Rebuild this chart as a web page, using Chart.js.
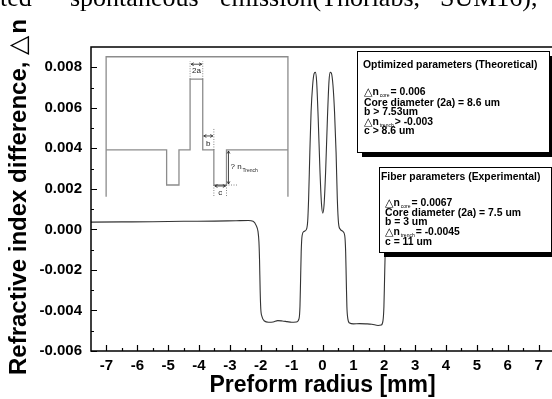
<!DOCTYPE html>
<html><head><meta charset="utf-8">
<script src="https://cdn.jsdelivr.net/npm/chart.js@4.4.1/dist/chart.umd.min.js"></script>
<style>html,body{margin:0;padding:0;overflow:hidden;background:#fff;width:552px;height:399px}canvas{display:block}</style>
</head><body>
<canvas id="c" width="560" height="399" style="width:560px;height:399px"></canvas>
<script>
// Measured preform profile (radius in mm, refractive index difference)
const radius = [-7.5,-6.5,-5.5,-4.5,-3.5,-2.8,-2.4,-2.25,-2.15,-2.09,-2.06,-2.04,-2.02,-2.0,-1.96,-1.88,-1.75,-1.6,-1.45,-1.3,-1.15,-1.0,-0.85,-0.76,-0.73,-0.71,-0.69,-0.66,-0.6,-0.52,-0.48,-0.45,-0.41,-0.37,-0.32,-0.27,-0.23,-0.19,-0.14,-0.08,-0.03,0.01,0.05,0.1,0.16,0.21,0.25,0.29,0.34,0.39,0.44,0.48,0.52,0.58,0.66,0.72,0.75,0.77,0.79,0.82,0.88,1.0,1.2,1.4,1.6,1.8,1.9,1.96,1.99,2.01,2.03,2.06,2.12,2.25,2.5,3.5,4.5,5.5,6.5,7.5];
const deltaN = [0.00036,0.00037,0.00038,0.0004,0.00041,0.00043,0.00044,0.0004,0.0002,-0.0001,-0.0006,-0.0015,-0.003,-0.0039,-0.0043,-0.00452,-0.00458,-0.00457,-0.0045,-0.00452,-0.00455,-0.00458,-0.00457,-0.0044,-0.0038,-0.0025,-0.0011,-0.0003,-0.0001,0.0000,0.0004,0.0015,0.0038,0.0058,0.0071,0.0077,0.00775,0.0073,0.0055,0.0028,0.0012,0.0008,0.0012,0.0028,0.0055,0.0073,0.00775,0.0077,0.0071,0.0058,0.0038,0.0015,0.0003,0.0000,-0.0001,-0.0003,-0.0011,-0.0025,-0.0038,-0.0044,-0.00462,-0.00466,-0.00465,-0.00466,-0.00468,-0.00474,-0.00472,-0.0045,-0.0038,-0.0025,-0.0012,-0.0003,0.0002,0.00038,0.0004,0.0004,0.0004,0.0004,0.0004,0.0004];

const xMajorTicks = [-7,-6,-5,-4,-3,-2,-1,0,1,2,3,4,5,6,7];
const xMinorTicks = [-6.5,-5.5,-4.5,-3.5,-2.5,-1.5,-0.5,0.5,1.5,2.5,3.5,4.5,5.5,6.5];
const yMajorTicks = [-0.006,-0.004,-0.002,0,0.002,0.004,0.006,0.008];
const yMinorTicks = [-0.005,-0.003,-0.001,0.001,0.003,0.005,0.007];

// Inset schematic (ideal design profile) in data units
const insetX = [-7.01,-5.05,-5.05,-4.65,-4.65,-4.29,-4.29,-3.88,-3.88,-3.52,-3.52,-3.11,-3.11,-1.12];
const insetY = [0.00392,0.00392,0.00219,0.00219,0.00392,0.00392,0.00741,0.00741,0.00392,0.00392,0.00219,0.00219,0.00392,0.00392];
const insetFrameX = [-7.01,-1.12];
const insetFrameY = [0.00852,0.00161];

const theoLines = [
  {dn:'core', rest:'= 0.006'},
  {text:'Core diameter (2a) = 8.6 um'},
  {text:'b > 7.53um'},
  {dn:'trench', rest:'> -0.003'},
  {text:'c > 8.6 um'}
];
const expLines = [
  {dn:'core', rest:'= 0.0067'},
  {text:'Core diameter (2a) = 7.5 um'},
  {text:'b = 3 um'},
  {dn:'trench', rest:'= -0.0045'},
  {text:'c = 11 um'}
];

const SANS = '"Liberation Sans", Arial, sans-serif';
const BOXFONT = 'bold 10.4px ' + SANS;

function drawLines(ctx, x0, lines, ys){
  lines.forEach((ln, i) => {
    const y = ys[i];
    ctx.font = BOXFONT;
    ctx.fillStyle = '#000';
    ctx.textBaseline = 'middle';
    ctx.textAlign = 'left';
    if (ln.dn) {
      ctx.font = '11px "DejaVu Sans"';
      ctx.fillText('\u25B3', x0, y);
      let x = x0 + ctx.measureText('\u25B3').width;
      ctx.font = BOXFONT;
      ctx.fillText('n', x, y);
      x += ctx.measureText('n').width + 1;
      ctx.font = '5px ' + SANS;
      ctx.fillText(ln.dn, x, y + 4);
      x += ctx.measureText(ln.dn).width + 1;
      ctx.font = BOXFONT;
      ctx.fillText(ln.rest, x, y);
    } else {
      ctx.fillText(ln.text, x0, y);
    }
  });
}

function shadowBox(ctx, x, y, w, h, s){
  ctx.fillStyle = '#000';
  ctx.fillRect(x + s, y + s, w, h);
  ctx.fillStyle = '#fff';
  ctx.fillRect(x, y, w, h);
  ctx.strokeStyle = '#000';
  ctx.lineWidth = 1;
  ctx.strokeRect(x + 0.5, y + 0.5, w, h);
}

function arrow(ctx, x1, y1, x2, y2){
  ctx.beginPath(); ctx.moveTo(x1, y1); ctx.lineTo(x2, y2); ctx.stroke();
  const a = Math.atan2(y2 - y1, x2 - x1);
  [[x2, y2, a], [x1, y1, a + Math.PI]].forEach(([x, y, t]) => {
    ctx.beginPath();
    ctx.moveTo(x - 3 * Math.cos(t - 0.5), y - 3 * Math.sin(t - 0.5));
    ctx.lineTo(x, y);
    ctx.lineTo(x - 3 * Math.cos(t + 0.5), y - 3 * Math.sin(t + 0.5));
    ctx.stroke();
  });
}

const decor = {
  id: 'decor',
  afterDatasetsDraw(chart){
    const ctx = chart.ctx;
    const xs = chart.scales.x, ys = chart.scales.y;
    const ca = chart.chartArea;
    const px = v => xs.getPixelForValue(v), py = v => ys.getPixelForValue(v);
    ctx.save();
    // frame
    ctx.strokeStyle = '#000'; ctx.lineWidth = 1.5;
    ctx.strokeRect(ca.left, ca.top, ca.right - ca.left, ca.bottom - ca.top);
    // ticks (inward)
    ctx.lineWidth = 1.2;
    ctx.beginPath();
    xMajorTicks.forEach(v => { const x = Math.round(px(v)) + 0.5; ctx.moveTo(x, ca.bottom); ctx.lineTo(x, ca.bottom - 6); });
    xMinorTicks.forEach(v => { const x = Math.round(px(v)) + 0.5; ctx.moveTo(x, ca.bottom); ctx.lineTo(x, ca.bottom - 3); });
    yMajorTicks.forEach(v => { const y = Math.round(py(v)) + 0.5; ctx.moveTo(ca.left, y); ctx.lineTo(ca.left + 6, y); });
    yMinorTicks.forEach(v => { const y = Math.round(py(v)) + 0.5; ctx.moveTo(ca.left, y); ctx.lineTo(ca.left + 3, y); });
    ctx.stroke();

    // inset schematic
    ctx.strokeStyle = '#8c8c8c'; ctx.lineWidth = 1.3;
    ctx.beginPath();
    ctx.moveTo(px(insetFrameX[0]), py(insetFrameY[1]));
    ctx.lineTo(px(insetFrameX[0]), py(insetFrameY[0]));
    ctx.lineTo(px(insetFrameX[1]), py(insetFrameY[0]));
    ctx.lineTo(px(insetFrameX[1]), py(insetFrameY[1]));
    ctx.stroke();
    ctx.beginPath();
    insetX.forEach((v, i) => { const X = px(v), Y = py(insetY[i]); i ? ctx.lineTo(X, Y) : ctx.moveTo(X, Y); });
    ctx.stroke();
    // annotations
    const cL = px(insetX[5]), cR = px(insetX[7]), tL = px(insetX[9]), tR = px(insetX[11]);
    const top = py(insetY[6]), base = py(insetY[0]), tb = py(insetY[2]);
    ctx.strokeStyle = '#666'; ctx.lineWidth = 0.8;
    ctx.setLineDash([1, 1.5]);
    ctx.beginPath();
    ctx.moveTo(cL, top); ctx.lineTo(cL, top - 18);
    ctx.moveTo(cR, top); ctx.lineTo(cR, top - 18);
    ctx.moveTo(tL, base); ctx.lineTo(tL, base - 22);
    ctx.moveTo(tL, tb); ctx.lineTo(tL, tb + 11);
    ctx.moveTo(tR, tb); ctx.lineTo(tR, tb + 11);
    ctx.moveTo(tR + 2, tb); ctx.lineTo(tR + 12, tb);
    ctx.stroke();
    ctx.setLineDash([]);
    ctx.strokeStyle = '#222'; ctx.lineWidth = 0.8;
    arrow(ctx, cL + 1, top - 15, cR - 1, top - 15);
    arrow(ctx, cR + 1, base - 14, tL - 1, base - 14);
    arrow(ctx, tL + 1, tb + 1, tR - 1, tb + 1);
    arrow(ctx, tR + 2, base + 1, tR + 2, tb - 1);
    ctx.fillStyle = '#222'; ctx.textAlign = 'center'; ctx.textBaseline = 'middle';
    ctx.font = '8px ' + SANS;
    ctx.fillText('2a', (cL + cR) / 2, top - 8);
    ctx.fillText('b', (cR + tL) / 2, base - 6);
    ctx.fillText('c', (tL + tR) / 2, tb + 8);
    ctx.textAlign = 'left';
    ctx.fillText('? n', tR + 4, (base + tb) / 2 - 1);
    ctx.font = '5px ' + SANS;
    ctx.fillText('Trench', tR + 16, (base + tb) / 2 + 3);

    // text boxes
    shadowBox(ctx, 357, 51, 192, 101, 5);
    ctx.fillStyle = '#000'; ctx.font = BOXFONT; ctx.textBaseline = 'middle'; ctx.textAlign = 'left';
    ctx.fillText('Optimized parameters (Theoretical)', 363, 65);
    drawLines(ctx, 364, theoLines, [92, 103, 112.5, 122, 131]);

    shadowBox(ctx, 379, 167, 172, 85, 5);
    ctx.fillStyle = '#000'; ctx.font = BOXFONT; ctx.textBaseline = 'middle'; ctx.textAlign = 'left';
    ctx.fillText('Fiber parameters (Experimental)', 381, 177);
    drawLines(ctx, 385, expLines, [203, 213, 222.5, 232, 242]);

    // y axis title
    ctx.save();
    ctx.translate(19, 375);
    ctx.rotate(-Math.PI / 2);
    ctx.fillStyle = '#000';
    ctx.font = 'bold 24px ' + SANS;
    ctx.textAlign = 'left'; ctx.textBaseline = 'middle';
    const t1 = 'Refractive index difference, ';
    ctx.fillText(t1, 0, 0);
    let w = ctx.measureText(t1).width;
    ctx.font = '25px "DejaVu Sans"';
    ctx.fillText('\u25B3', w, 0);
    w += ctx.measureText('\u25B3').width + 2;
    ctx.font = 'bold 24px ' + SANS;
    ctx.fillText('n', w, 0);
    ctx.restore();

    // cropped caption line at top
    ctx.fillStyle = '#000';
    ctx.font = '26px "Liberation Serif", serif';
    ctx.textBaseline = 'alphabetic'; ctx.textAlign = 'left';
    [['ted', 0], ['spontaneous', 70], ['emission(Thorlabs,', 220], ['SUM16),', 440]].forEach(([s, x]) => ctx.fillText(s, x, 6));
    ctx.restore();
  }
};

new Chart(document.getElementById('c'), {
  type: 'scatter',
  data: {
    datasets: [{
      data: radius.map((r, i) => ({x: r, y: deltaN[i]})),
      showLine: true,
      borderColor: '#333',
      borderWidth: 1.1,
      pointRadius: 0,
      cubicInterpolationMode: 'monotone',
      fill: false
    }]
  },
  options: {
    responsive: false,
    devicePixelRatio: 1,
    animation: false,
    layout: {padding: {top: 47, right: 3.5, left: 0, bottom: 0}},
    plugins: {legend: {display: false}, tooltip: {enabled: false}},
    scales: {
      x: {
        type: 'linear', min: -7.5, max: 7.5,
        grid: {display: false, drawTicks: false},
        border: {display: false},
        afterFit: s => { s.height = 48; },
        ticks: {
          stepSize: 0.5, autoSkip: false, maxRotation: 0, minRotation: 0,
          padding: 6, color: '#000',
          font: {family: SANS, size: 15, weight: 'bold'},
          callback: v => { const r = Math.round(v * 1000) / 1000; return Number.isInteger(r) ? String(r) : ''; }
        },
        title: {display: true, text: 'Preform radius [mm]', color: '#000',
          font: {family: SANS, size: 23, weight: 'bold'}, padding: {top: 0, bottom: 0}}
      },
      y: {
        type: 'linear', min: -0.006, max: 0.009,
        grid: {display: false, drawTicks: false},
        border: {display: false},
        afterFit: s => { s.width = 91; },
        ticks: {
          stepSize: 0.002, includeBounds: false, padding: 9, color: '#000',
          font: {family: SANS, size: 15, weight: 'bold'},
          callback: v => { const r = Math.round(v * 1000) / 1000; return (Math.abs(r) < 1e-9 ? 0 : r).toFixed(3); }
        }
      }
    }
  },
  plugins: [decor]
});
</script>
</body></html>
